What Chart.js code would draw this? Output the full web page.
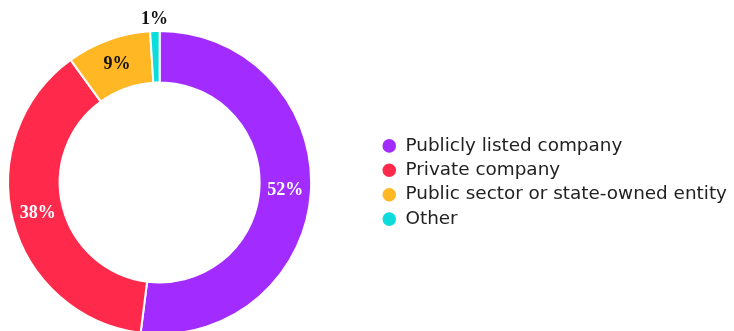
<!DOCTYPE html>
<html>
<head>
<meta charset="utf-8">
<script src="https://cdn.jsdelivr.net/npm/chart.js@4/dist/chart.umd.min.js"></script>
<style>
  html, body { margin: 0; padding: 0; background: #fff; overflow: hidden; }
  #page { width: 734px; height: 331px; overflow: hidden; position: relative; }
  /* the ring is wider than its half of the page, so the canvas starts left of it */
  #wrap { position: absolute; left: -57px; top: 0; width: 794px; height: 335px; }
</style>
</head>
<body>
<div id="page"><div id="wrap"><canvas id="owners"></canvas></div></div>
<script>
// Ownership breakdown, share of respondents (%)
const categories = ['Publicly listed company', 'Private company', 'Public sector or state-owned entity', 'Other'];
const shares = [52, 38, 9, 1];
const sliceColors = ['#a22cff', '#ff2a4b', '#ffb724', '#0cdcdc'];
const labelColors = ['#ffffff', '#ffffff', '#111111', '#111111'];

// writes the percentage on each slice; thin slices get it outside the ring
const sliceLabels = {
  id: 'sliceLabels',
  afterDatasetsDraw(chart) {
    const ctx = chart.ctx;
    const meta = chart.getDatasetMeta(0);
    ctx.save();
    ctx.font = 'bold 18px "Liberation Serif", serif';
    ctx.textAlign = 'center';
    ctx.textBaseline = 'middle';
    meta.data.forEach((arc, i) => {
      const v = shares[i];
      const p = arc.getProps(['x', 'y', 'startAngle', 'endAngle', 'innerRadius', 'outerRadius'], true);
      const mid = (p.startAngle + p.endAngle) / 2;
      let r = (p.innerRadius + p.outerRadius) / 2;
      if (v < 3) r = p.outerRadius + 12;
      ctx.fillStyle = labelColors[i];
      ctx.fillText(v + '%', p.x + Math.cos(mid) * r, p.y + Math.sin(mid) * r);
    });
    ctx.restore();
  }
};

new Chart(document.getElementById('owners'), {
  type: 'doughnut',
  data: {
    labels: categories,
    datasets: [{
      data: shares,
      backgroundColor: sliceColors,
      borderColor: '#ffffff',
      borderWidth: 2,
      hoverOffset: 0
    }]
  },
  options: {
    responsive: true,
    maintainAspectRatio: false,
    animation: false,
    cutout: '66%',
    layout: { padding: { top: 30, bottom: 0, left: 0, right: 0 } },
    plugins: {
      tooltip: { enabled: false },
      legend: {
        position: 'right',
        labels: {
          usePointStyle: true,
          pointStyle: 'circle',
          boxWidth: 14,
          boxHeight: 11,
          padding: 6,
          color: '#222222',
          font: { family: '"DejaVu Sans", sans-serif', size: 18.4 }
        }
      }
    }
  },
  plugins: [sliceLabels]
});
</script>
</body>
</html>
